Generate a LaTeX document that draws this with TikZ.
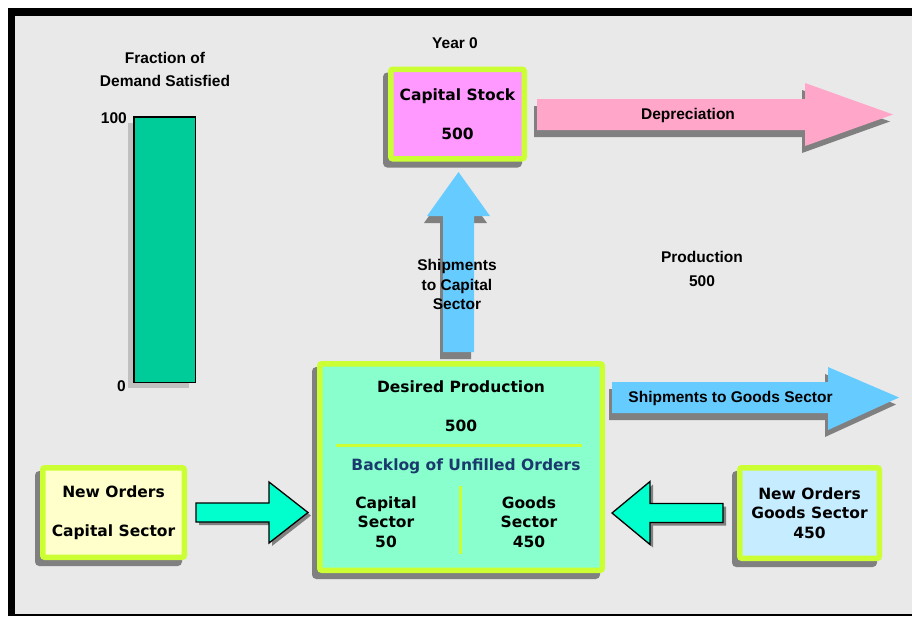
\documentclass[tikz,border=0pt]{standalone}
\usepackage{fontspec}
\setmainfont{Liberation Sans}
\newfontfamily\vfont{DejaVu Sans}
\usetikzlibrary{calc,shadows}
\definecolor{bggray}{HTML}{E9E9E9}
\definecolor{ygreen}{HTML}{CCFF33}
\definecolor{shgray}{HTML}{808080}
\definecolor{bargray}{HTML}{C0C0C0}
\definecolor{bargreen}{HTML}{00CC99}
\definecolor{csfill}{HTML}{FF99FF}
\definecolor{dpfill}{HTML}{88FFCC}
\definecolor{nocfill}{HTML}{FFFFCC}
\definecolor{nogfill}{HTML}{C6ECFF}
\definecolor{pinkarr}{HTML}{FFA6C9}
\definecolor{bluearr}{HTML}{66CCFF}
\definecolor{aquaarr}{HTML}{00FFCC}
\definecolor{navytext}{HTML}{1A3A6E}
\begin{document}
\begin{tikzpicture}[x=1pt,y=-1pt,
 albl/.style={font=\bfseries\fontsize{15.5}{#1}\selectfont, align=center, inner sep=0pt},
 albl/.default=19.5,
 vlbl/.style={font=\vfont\bfseries\fontsize{15.5}{#1}\selectfont, align=center, inner sep=0pt},
 vlbl/.default=19.5,
 stockbox/.style={draw=ygreen, line width=5.5pt, rounded corners=2pt, inner sep=0pt,
   general shadow={fill=shgray, draw=shgray, line width=5.5pt, shadow xshift=-5pt, shadow yshift=-6pt}},
 flowarrow/.style={general shadow={fill=shgray, shadow xshift=-3pt, shadow yshift=-7pt}},
 orderarrow/.style={fill=aquaarr, draw=black, line width=1.3pt, line join=miter,
   general shadow={fill=shgray, shadow xshift=3pt, shadow yshift=-3pt}},
 divline/.style={draw=ygreen, line width=3pt},
]
\useasboundingbox (0,0) rectangle (912,616);
\fill[white] (0,0) rectangle (912,616);
\fill[black] (8,8) rectangle (912,616);
\fill[bggray] (15,16) rectangle (912,614);

% demand bar
\node[draw=black, line width=1.5pt, fill=bargreen, minimum width=61.5pt, minimum height=265.5pt, inner sep=0pt,
  general shadow={fill=bargray, shadow xshift=-6pt, shadow yshift=-6pt}] (bar) at (164.5,249.5) {};
\node[albl, anchor=east] (top100) at (127,118) {100};
\node[albl, anchor=east] (bot0) at (126,386) {0};
\node[albl=23] (fracl) at (165,69.5) {Fraction of\\Demand Satisfied};

\node[albl] (year) at (455,43) {Year 0};

% capital stock
\node[stockbox, fill=csfill, minimum width=133.5pt, minimum height=89.5pt, vlbl=39] (cs) at (457.5,114) {Capital Stock\\500};

% desired production box
\node[stockbox, fill=dpfill, minimum width=282.5pt, minimum height=206.5pt] (dp) at (461,467) {};
\node[vlbl] (dpt) at (461,387) {Desired Production};
\node[vlbl] (dpv) at (461,426) {500};
\draw[divline] (336,445) -- (582,445);
\node[vlbl, text=navytext] (backlog) at (466,466.5) {Backlog of Unfilled Orders};
\draw[divline] (460,486) -- (460,554);
\node[vlbl] (capsec) at (386,522) {Capital\\Sector\\50};
\node[vlbl] (goodsec) at (529,522) {Goods\\Sector\\450};

% new orders boxes
\node[stockbox, fill=nocfill, minimum width=141.5pt, minimum height=89.5pt, vlbl=39] (noc) at (113.5,512.5) {New Orders\\Capital Sector};
\node[stockbox, fill=nogfill, minimum width=139.5pt, minimum height=90.5pt, vlbl] (nog) at (809.5,513) {New Orders\\Goods Sector\\450};

% depreciation
\coordinate (deps) at ($(cs.east)+(10,0.5)$);
\coordinate (depe) at ($(deps)+(356,0)$);
\fill[pinkarr, flowarrow] ($(deps)+(0,-15.5)$) -- ++(268,0) -- ++(0,-16) -- (depe) -- ($(depe)+(-88,31.5)$) -- ++(0,-16) -- ($(deps)+(0,15.5)$) -- cycle;
\node[albl] (depl) at (688,115) {Depreciation};

% shipments to capital sector
\coordinate (shs) at ($(dp.north)+(-2.5,-9)$);
\coordinate (she) at ($(cs.south)+(1,10.5)$);
\fill[bluearr, flowarrow] ($(shs)+(-15.5,0)$) -- ($(she)+(-15.5,44)$) -- ++(-16,0) -- (she) -- ($(she)+(31.5,44)$) -- ++(-16,0) -- ($(shs)+(15.5,0)$) -- cycle;
\node[albl] (shcl) at (457,284.5) {Shipments\\to Capital\\Sector};

\node[albl=24] (prod) at (702,269) {Production\\500};

% shipments to goods sector
\coordinate (sgs) at ($(dp.east)+(7,-69.5)$);
\coordinate (sge) at ($(sgs)+(287,0)$);
\fill[bluearr, flowarrow] ($(sgs)+(0,-15.5)$) -- ++(216,0) -- ++(0,-15) -- (sge) -- ($(sge)+(-71,32.5)$) -- ++(0,-17) -- ($(sgs)+(0,15.5)$) -- cycle;
\node[albl] (sgl) at (730.5,398) {Shipments to Goods Sector};

% order arrows
\coordinate (r1s) at ($(noc.east)+(9,0)$);
\coordinate (r1e) at ($(dp.west)+(-9,45.5)$);
\draw[orderarrow] ($(r1s)+(0,-9.5)$) -- ($(r1e)+(-39,-9.5)$) -- ($(r1e)+(-39,-30.5)$) -- (r1e) -- ($(r1e)+(-39,30.5)$) -- ($(r1e)+(-39,9.5)$) -- ($(r1s)+(0,9.5)$) -- cycle;
\coordinate (l1s) at ($(nog.west)+(-14,0)$);
\coordinate (l1e) at ($(dp.east)+(7,46)$);
\draw[orderarrow] ($(l1s)+(0,-9.5)$) -- ($(l1e)+(38,-9.5)$) -- ($(l1e)+(38,-31.5)$) -- (l1e) -- ($(l1e)+(38,31.5)$) -- ($(l1e)+(38,9.5)$) -- ($(l1s)+(0,9.5)$) -- cycle;
\end{tikzpicture}
\end{document}
